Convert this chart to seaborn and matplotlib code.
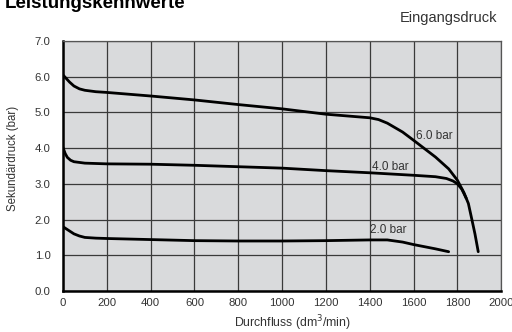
import numpy as np
import pandas as pd
import matplotlib as mpl
mpl.use("Agg")
import matplotlib.pyplot as plt
import seaborn as sns

# Durchfluss (dm3/min) and Sekundärdruck (bar) for each Eingangsdruck
flow_6 = [0, 15, 30, 50, 75, 100, 150, 200, 400, 600, 800, 1000, 1200, 1400, 1440,
          1480, 1550, 1600, 1700, 1760, 1800, 1830, 1850, 1866, 1880, 1895]
p_6 = [6.05, 5.95, 5.85, 5.74, 5.66, 5.62, 5.58, 5.56, 5.46, 5.35, 5.22, 5.1, 4.95, 4.85, 4.8,
       4.7, 4.45, 4.22, 3.75, 3.42, 3.1, 2.75, 2.45, 2.0, 1.6, 1.1]

flow_4 = [0, 10, 20, 35, 50, 75, 100, 200, 400, 600, 800, 1000, 1200, 1400, 1600,
          1700, 1750, 1780, 1800, 1820, 1840]
p_4 = [4.02, 3.85, 3.74, 3.66, 3.62, 3.6, 3.58, 3.56, 3.55, 3.52, 3.48, 3.44, 3.37, 3.31, 3.24,
       3.2, 3.15, 3.08, 3.0, 2.85, 2.6]

flow_2 = [0, 25, 50, 75, 100, 150, 200, 400, 600, 800, 1000, 1200, 1400, 1480, 1550, 1600, 1700, 1760]
p_2 = [1.8, 1.7, 1.6, 1.54, 1.5, 1.48, 1.47, 1.44, 1.41, 1.40, 1.40, 1.41, 1.43, 1.43, 1.37, 1.3, 1.18, 1.1]

series_labels = ["6.0 bar", "4.0 bar", "2.0 bar"]
label_pos = [(1610, 4.35), (1410, 3.48), (1400, 1.71)]

x_ticks = list(range(0, 2001, 200))
y_ticks = [0, 1, 2, 3, 4, 5, 6, 7]

sns.set_style("white")
plt.rcParams['font.family'] = ['Liberation Sans', 'DejaVu Sans']

fig = plt.figure(figsize=(5.12, 3.32), dpi=100)
ax = fig.add_axes([0.123, 0.1235, 0.856, 0.753])
ax.set_facecolor("#d9dadc")

for fl, pr in [(flow_6, p_6), (flow_4, p_4), (flow_2, p_2)]:
    sns.lineplot(x=fl, y=pr, ax=ax, color="black", linewidth=2.0, sort=False,
                 estimator=None)

for lab, (lx, ly) in zip(series_labels, label_pos):
    ax.text(lx, ly, lab, fontsize=8.5, color="#333333", ha="left", va="center")

ax.set_xlim(0, 2000)
ax.set_ylim(0, 7)
ax.set_xticks(x_ticks)
ax.set_yticks(y_ticks)
ax.set_yticklabels([f"{v:.1f}" for v in y_ticks])
ax.grid(True, color="#3a3a3a", linewidth=0.9)
ax.set_axisbelow(True)
ax.tick_params(axis="both", length=0, labelsize=8.2, colors="#333333")
ax.tick_params(axis="y", pad=9)
ax.tick_params(axis="x", pad=5)
for s in ["left", "bottom"]:
    ax.spines[s].set_color("black")
    ax.spines[s].set_linewidth(1.8)
for s in ["top", "right"]:
    ax.spines[s].set_color("#555555")
    ax.spines[s].set_linewidth(0.9)

ax.set_xlabel("Durchfluss (dm$^3$/min)", fontsize=8.8, color="#333333")
ax.set_ylabel("Sekundärdruck (bar)", fontsize=8.3, color="#333333")
ax.xaxis.set_label_coords(0.523, -0.088)
ax.yaxis.set_label_coords(-0.1, 0.53)

fig.text(5 / 512, 1 - 8 / 332, "Leistungskennwerte", fontsize=13.5, fontweight="bold",
         ha="left", va="baseline", color="black")
fig.text(497 / 512, 1 - 18 / 332, "Eingangsdruck", fontsize=10.5, ha="right", va="center",
         color="#333333")

fig.savefig("out.png", dpi=100)
